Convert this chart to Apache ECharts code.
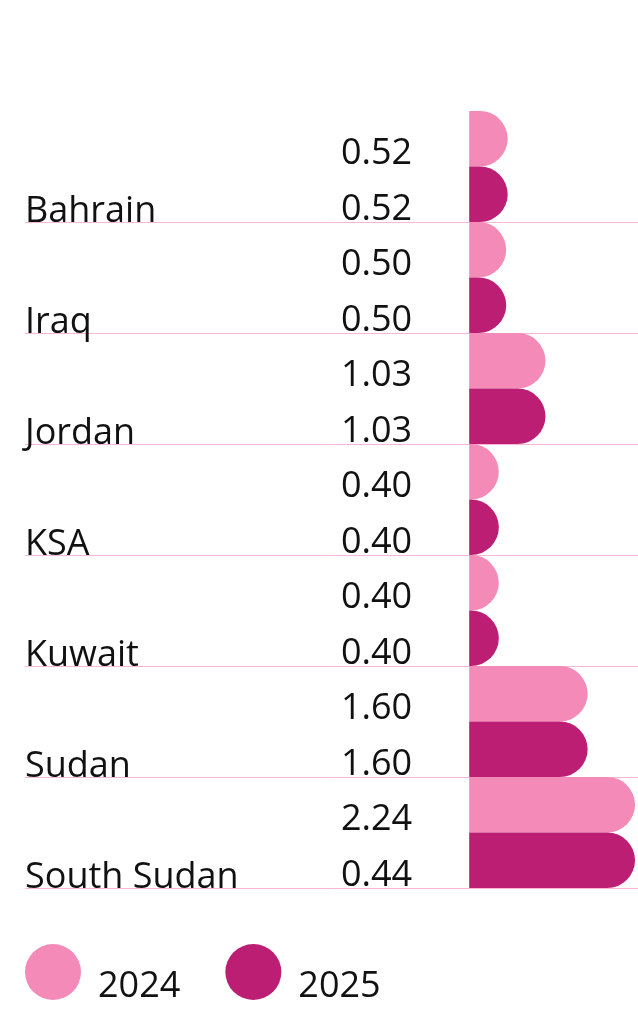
<!DOCTYPE html>
<html>
<head>
<meta charset="UTF-8">
<script src="https://cdn.jsdelivr.net/npm/echarts@6/dist/echarts.min.js"></script>
<style>
  html, body { margin: 0; padding: 0; background: #fff; }
  #chart { width: 638px; height: 1024px; }
</style>
</head>
<body>
<div id="chart"></div>
<script>
const categories = ['Bahrain', 'Iraq', 'Jordan', 'KSA', 'Kuwait', 'Sudan', 'South Sudan'];
const values2024 = [0.52, 0.50, 1.03, 0.40, 0.40, 1.60, 2.24];
const values2025 = [0.52, 0.50, 1.03, 0.40, 0.40, 1.60, 2.24];
// printed labels (South Sudan 2025 bar is drawn full length but labelled 0.44)
const labels2024 = ['0.52', '0.50', '1.03', '0.40', '0.40', '1.60', '2.24'];
const labels2025 = ['0.52', '0.50', '1.03', '0.40', '0.40', '1.60', '0.44'];

const FONT = '"Open Sans", sans-serif';
const PINK = '#F48AB8';
const MAGENTA = '#BC1E74';

const chart = echarts.init(document.getElementById('chart'));

function barLabel(texts) {
    return {
        show: true,
        position: 'left',
        distance: 57,
        offset: [0, 15],
        color: '#111',
        fontFamily: FONT,
        fontSize: 36,
        formatter: p => texts[p.dataIndex]
    };
}

chart.setOption({
    animation: false,
    legend: {
        left: 25,
        top: 939,
        padding: 0,
        icon: 'circle',
        itemWidth: 56,
        itemHeight: 56,
        itemGap: 45,
        formatter: name => '{t|' + name + '}',
        textStyle: {
            rich: {
                t: {
                    fontFamily: FONT,
                    fontSize: 36,
                    color: '#111',
                    lineHeight: 26,
                    padding: [30, 0, 0, 12]
                }
            }
        },
        data: ['2024', '2025']
    },
    grid: { left: 25, right: 0, top: 111, bottom: 136, containLabel: false },
    xAxis: {
        type: 'value',
        min: -6,
        max: 2.28,
        show: false
    },
    yAxis: {
        type: 'category',
        inverse: true,
        data: categories,
        axisLine: { show: false },
        axisTick: { show: false },
        splitLine: {
            show: true,
            showMinLine: false,
            lineStyle: { color: '#F8B8D4', width: 1 }
        },
        axisLabel: {
            inside: true,
            margin: 0,
            align: 'left',
            interval: 0,
            showMinLabel: true,
            showMaxLabel: true,
            hideOverlap: false,
            formatter: v => '{c|' + v + '}',
            rich: {
                c: {
                    color: '#111',
                    fontFamily: FONT,
                    fontSize: 36,
                    lineHeight: 40,
                    padding: [91, 0, 0, 0]
                }
            }
        }
    },
    series: [
        {
            name: '2024',
            type: 'bar',
            data: values2024,
            barGap: '0%',
            barCategoryGap: '0%',
            itemStyle: { color: PINK, borderRadius: [0, 28, 28, 0] },
            label: barLabel(labels2024)
        },
        {
            name: '2025',
            type: 'bar',
            data: values2025,
            itemStyle: { color: MAGENTA, borderRadius: [0, 28, 28, 0] },
            label: barLabel(labels2025)
        }
    ]
});
</script>
</body>
</html>
